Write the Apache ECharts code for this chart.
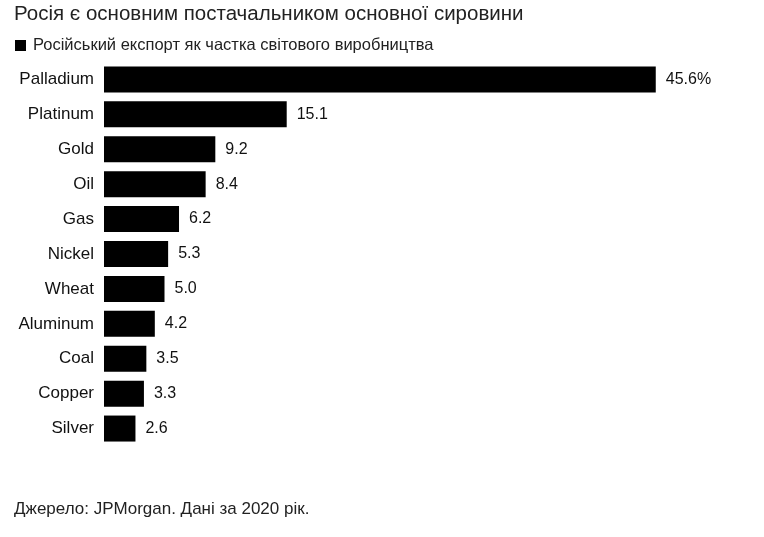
<!DOCTYPE html>
<html><head><meta charset="utf-8">
<script src="https://cdn.jsdelivr.net/npm/echarts@6/dist/echarts.min.js"></script>
<style>html,body{margin:0;padding:0;background:#fff}#c{width:764px;height:537px}</style>
</head><body><div id="c"></div>
<script>
var categories = ['Palladium','Platinum','Gold','Oil','Gas','Nickel','Wheat','Aluminum','Coal','Copper','Silver'];
var values = [45.6, 15.1, 9.2, 8.4, 6.2, 5.3, 5.0, 4.2, 3.5, 3.3, 2.6];
var labels = ['45.6%','15.1','9.2','8.4','6.2','5.3','5.0','4.2','3.5','3.3','2.6'];

var chart = echarts.init(document.getElementById('c'));
chart.setOption({
    animation: false,
    textStyle: {fontFamily: 'Arial, Liberation Sans, sans-serif'},
    graphic: [
        {type: 'text', left: 14, top: 4, style: {text: 'Росія є основним постачальником основної сировини', fontSize: 20.5, fill: '#222', fontFamily: 'Arial, Liberation Sans'}},
        {type: 'rect', left: 15, top: 40, shape: {width: 11, height: 11}, style: {fill: '#000'}},
        {type: 'text', left: 33, top: 37, style: {text: 'Російський експорт як частка світового виробництва', fontSize: 16.5, fill: '#222', fontFamily: 'Arial, Liberation Sans'}},
        {type: 'text', left: 14, top: 501, style: {text: 'Джерело: JPMorgan. Дані за 2020 рік.', fontSize: 17, fill: '#222', fontFamily: 'Arial, Liberation Sans'}}
    ],
    grid: {left: 104, right: 55, top: 62, bottom: 91, containLabel: false},
    xAxis: {type: 'value', min: 0, max: 50, show: false},
    yAxis: {
        type: 'category', data: categories, inverse: true,
        axisLine: {show: false}, axisTick: {show: false},
        axisLabel: {color: '#111', fontSize: 17, margin: 10}
    },
    series: [{
        type: 'bar', data: values, barWidth: 26,
        itemStyle: {color: '#000'},
        label: {show: true, position: 'right', distance: 10, color: '#111', fontSize: 16,
            formatter: function (p) { return labels[p.dataIndex]; }}
    }]
});
</script></body></html>
